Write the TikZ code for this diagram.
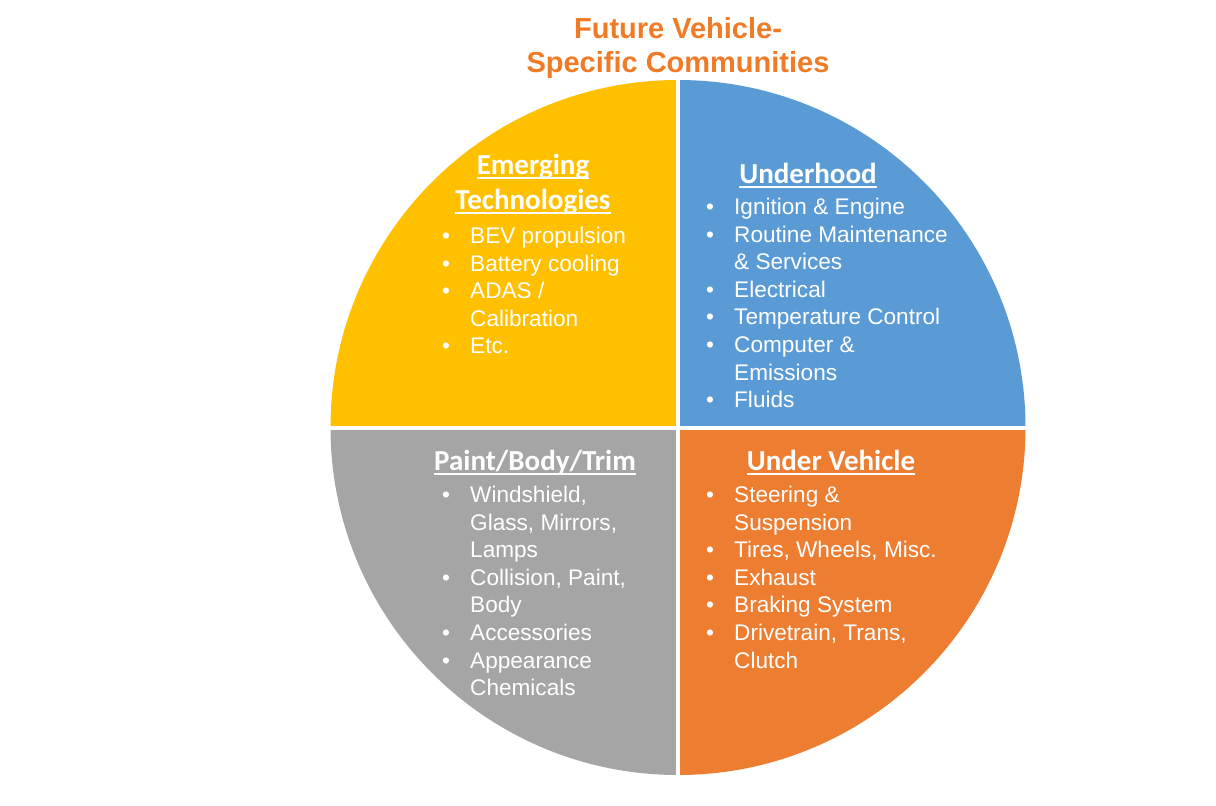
\documentclass[tikz,border=0pt]{standalone}
\usepackage{fontspec}
\setmainfont{Liberation Sans}
\newfontfamily\hdfont{Carlito}
\usetikzlibrary{positioning}

\definecolor{emergcol}{HTML}{FFC000}
\definecolor{hoodcol}{HTML}{5B9BD5}
\definecolor{undercol}{HTML}{ED7D31}
\definecolor{paintcol}{HTML}{A5A5A5}
\definecolor{titlecol}{HTML}{F07A26}

% underlined header text
\newcommand{\hdul}[1]{\leavevmode\setbox0\hbox{#1}\rlap{\rule[-5pt]{\wd0}{2pt}}\box0}
% bullet line and continuation line
\newcommand{\bl}[1]{\makebox[28pt][l]{\textbullet}#1}
\newcommand{\cl}[1]{\hspace*{28pt}#1}

\begin{document}
\begin{tikzpicture}[
    x=1pt, y=-1pt,
    hdtext/.style={anchor=base, inner sep=0pt, text=white, font=\hdfont\bfseries\fontsize{29}{34}\selectfont},
    listtext/.style={anchor=north west, inner sep=0pt, text=white, align=left, font=\fontsize{22.6}{27.6}\selectfont},
    divider/.style={white, line width=4pt}
]
\useasboundingbox[fill=white] (0,0) rectangle (1216,806);
\coordinate (c) at (678,427.5);
\coordinate (top) at (678,78);
\coordinate (bot) at (678,777);
\coordinate (lft) at (329,427.5);
\coordinate (rgt) at (1027,427.5);

% quadrants
\begin{scope}
  \clip (c) circle[radius=347.5];
  \fill[emergcol] (c) rectangle (lft |- top);
  \fill[hoodcol] (c) rectangle (rgt |- top);
  \fill[undercol] (c) rectangle (rgt |- bot);
  \fill[paintcol] (c) rectangle (lft |- bot);
\end{scope}
\draw[divider] (top) -- (bot);
\draw[divider] (lft) -- (rgt);

% title
\node[anchor=north, inner sep=0pt, align=center, text=titlecol, font=\bfseries\fontsize{29}{34}\selectfont] (title) at (678,17)
  {Future Vehicle-\\Specific Communities};

% emerging technologies
\node[hdtext] (emerg1) at (533,174) {\hdul{Emerging}};
\node[hdtext] (emerg2) at (533,209) {\hdul{Technologies}};
\node[listtext] (emerglist) at (442,227) {\bl{BEV propulsion}\\\bl{Battery cooling}\\\bl{ADAS /}\\\cl{Calibration}\\\bl{Etc.}};

% underhood
\node[hdtext] (hood) at (808,183) {\hdul{Underhood}};
\node[listtext] (hoodlist) at (706,198) {\bl{Ignition \& Engine}\\\bl{Routine Maintenance}\\\cl{\& Services}\\\bl{Electrical}\\\bl{Temperature Control}\\\bl{Computer \&}\\\cl{Emissions}\\\bl{Fluids}};

% paint/body/trim
\node[hdtext] (paint) at (535,470) {\hdul{Paint/Body/Trim}};
\node[listtext] (paintlist) at (442,486) {\bl{Windshield,}\\\cl{Glass, Mirrors,}\\\cl{Lamps}\\\bl{Collision, Paint,}\\\cl{Body}\\\bl{Accessories}\\\bl{Appearance}\\\cl{Chemicals}};

% under vehicle
\node[hdtext] (under) at (831,470) {\hdul{Under Vehicle}};
\node[listtext] (underlist) at (706,486) {\bl{Steering \&}\\\cl{Suspension}\\\bl{Tires, Wheels, Misc.}\\\bl{Exhaust}\\\bl{Braking System}\\\bl{Drivetrain, Trans,}\\\cl{Clutch}};
\end{tikzpicture}
\end{document}
